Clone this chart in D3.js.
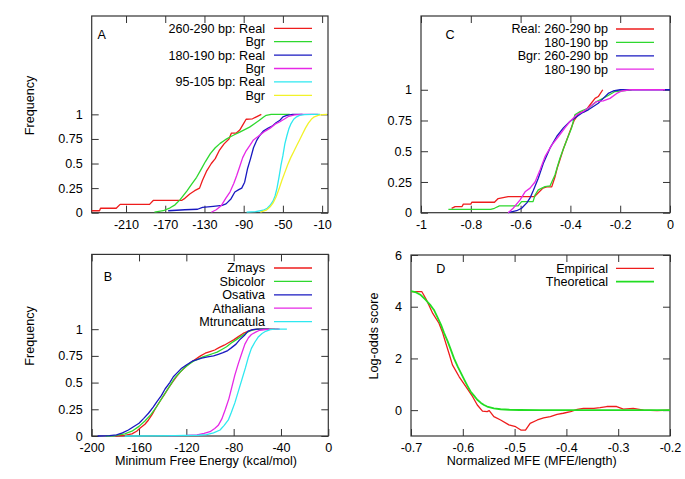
<!DOCTYPE html>
<html><head><meta charset="utf-8">
<script src="https://cdn.jsdelivr.net/npm/d3@7"></script>
<style>
body{margin:0;background:#fff}
text{font-family:"Liberation Sans",Arial,Helvetica,sans-serif;font-size:12.6px;fill:#000}
text.leg{font-size:12.6px}
</style>
</head><body>
<svg id="c" width="685" height="479"></svg>
<script>
// ---------- DATA ----------
const A_xTicks = [-210, -170, -130, -90, -50, -10];
const B_xTicks = [-200, -160, -120, -80, -40, 0];
const C_xTicks = [-1, -0.8, -0.6, -0.4, -0.2, 0];
const D_xTicks = [-0.7, -0.6, -0.5, -0.4, -0.3, -0.2];
const freqTicks = [0, 0.25, 0.5, 0.75, 1];
const D_yTicks = [0, 2, 4, 6];

const A_labels = ["260-290 bp: Real", "Bgr", "180-190 bp: Real", "Bgr", "95-105 bp: Real", "Bgr"];
const B_labels = ["Zmays", "Sbicolor", "Osativa", "Athaliana", "Mtruncatula"];
const C_labels = ["Real: 260-290 bp", "180-190 bp", "Bgr: 260-290 bp", "180-190 bp"];
const D_labels = ["Empirical", "Theoretical"];

// Panel A: cumulative frequency of MFE
const A_real260 = [[-245,0.02],[-237,0.02],[-236,0.045],[-220,0.045],[-216,0.085],[-186,0.085],[-182,0.126],[-153,0.126],[-150,0.146],[-145,0.19],[-140,0.224],[-135,0.25],[-132,0.33],[-128,0.42],[-123,0.5],[-119,0.55],[-115,0.63],[-110,0.7],[-105,0.75],[-102.5,0.81],[-97.5,0.81],[-94,0.84],[-91,0.89],[-87.5,0.95],[-81,0.955],[-77,0.975],[-72,1.0]];
const A_bgr260 = [[-181,0.005],[-172,0.02],[-165,0.05],[-160,0.08],[-155,0.13],[-148,0.22],[-143,0.29],[-138,0.36],[-134,0.43],[-129,0.52],[-124,0.6],[-119,0.66],[-114,0.705],[-109,0.74],[-104,0.77],[-99,0.795],[-94,0.82],[-89,0.845],[-84,0.87],[-79,0.905],[-74,0.94],[-70,0.97],[-67,0.99],[-62,1.0],[-43,1.0]];
const A_real180 = [[-167,0.02],[-150,0.03],[-137,0.035],[-132,0.055],[-121,0.065],[-112,0.075],[-108,0.09],[-103,0.14],[-99,0.21],[-95,0.235],[-92,0.25],[-89,0.31],[-86,0.45],[-83,0.55],[-80,0.66],[-77,0.73],[-74,0.78],[-70,0.83],[-65,0.86],[-61,0.88],[-57,0.915],[-53,0.94],[-50,0.975],[-46,0.99],[-40,1.0],[-30,1.0]];
const A_bgr180 = [[-123,0.005],[-118,0.03],[-113,0.07],[-108,0.15],[-104,0.21],[-100,0.3],[-97,0.38],[-94,0.47],[-91,0.56],[-88,0.62],[-84,0.68],[-80,0.74],[-76,0.77],[-72,0.8],[-68,0.83],[-63,0.86],[-58,0.9],[-53,0.925],[-48,0.955],[-44,0.98],[-38,0.995],[-30,1.0],[-14,1.0]];
const A_real95 = [[-87,0.005],[-78,0.01],[-70,0.025],[-66,0.045],[-63,0.075],[-60,0.12],[-58,0.17],[-56,0.25],[-54,0.36],[-52,0.48],[-50,0.58],[-48,0.7],[-46,0.78],[-44,0.85],[-42,0.9],[-39,0.95],[-36,0.975],[-33,0.99],[-28,0.998],[-20,1.0],[-12,1.0]];
const A_bgr95 = [[-73,0.005],[-67,0.025],[-63,0.06],[-60,0.1],[-57,0.16],[-54,0.24],[-51,0.33],[-48,0.41],[-45,0.49],[-42,0.56],[-39,0.62],[-36,0.68],[-33,0.74],[-30,0.8],[-27,0.86],[-24,0.91],[-21,0.95],[-18,0.975],[-14,0.99],[-10,0.998],[-5,1.0]];

// Panel B: species
const B_zmays = [[-180,0],[-172,0.005],[-166,0.02],[-162,0.045],[-159,0.075],[-155,0.11],[-152,0.15],[-149,0.2],[-146,0.26],[-142,0.33],[-139,0.38],[-135,0.45],[-132,0.5],[-128,0.56],[-125,0.6],[-120,0.655],[-116,0.69],[-112,0.72],[-108,0.75],[-104,0.775],[-100,0.79],[-96,0.805],[-92,0.83],[-88,0.85],[-84,0.875],[-80,0.9],[-76,0.93],[-72,0.96],[-68,0.98],[-64,0.995],[-60,1.0],[-42,1.0]];
const B_sbicolor = [[-188,0],[-180,0.003],[-172,0.02],[-166,0.045],[-160,0.09],[-155,0.14],[-150,0.2],[-146,0.26],[-142,0.33],[-138,0.4],[-134,0.47],[-130,0.54],[-126,0.59],[-122,0.635],[-118,0.67],[-114,0.7],[-110,0.72],[-106,0.74],[-102,0.755],[-98,0.77],[-94,0.785],[-90,0.81],[-86,0.835],[-82,0.87],[-78,0.9],[-74,0.93],[-70,0.96],[-66,0.985],[-62,0.997],[-58,1.0],[-45,1.0]];
const B_osativa = [[-195,0],[-185,0.003],[-179,0.01],[-174,0.03],[-169,0.056],[-165,0.085],[-160,0.12],[-156,0.165],[-152,0.213],[-148,0.27],[-145,0.32],[-141,0.38],[-138,0.44],[-134,0.5],[-131,0.555],[-127,0.6],[-124,0.635],[-120,0.665],[-115,0.7],[-111,0.715],[-107,0.73],[-102,0.74],[-97,0.75],[-93,0.765],[-89,0.78],[-85,0.8],[-82,0.825],[-78,0.86],[-75,0.9],[-71,0.94],[-68,0.98],[-64,0.995],[-60,1.0],[-50,1.0]];
const B_athaliana = [[-135,0.003],[-120,0.005],[-111,0.01],[-105,0.025],[-100,0.04],[-96,0.07],[-93,0.1],[-90,0.16],[-87,0.25],[-84,0.35],[-81.5,0.46],[-79,0.57],[-76,0.68],[-73,0.78],[-70.5,0.86],[-67.5,0.92],[-65,0.95],[-61,0.975],[-58,0.99],[-53,0.997],[-48,1.0],[-41,1.0]];
const B_mtruncatula = [[-172,0],[-150,0.002],[-130,0.004],[-110,0.007],[-103,0.012],[-97,0.03],[-91.5,0.056],[-88,0.1],[-84.5,0.15],[-82,0.22],[-79,0.31],[-76,0.42],[-73,0.53],[-70,0.64],[-67.5,0.74],[-65,0.82],[-62,0.88],[-59,0.93],[-56,0.96],[-53,0.98],[-49,0.995],[-45,1.0],[-35,1.0]];

// Panel C: normalized MFE
const C_real260 = [[-0.877,0.035],[-0.863,0.05],[-0.835,0.05],[-0.83,0.07],[-0.8,0.07],[-0.796,0.085],[-0.705,0.085],[-0.69,0.115],[-0.665,0.125],[-0.65,0.13],[-0.545,0.13],[-0.525,0.17],[-0.51,0.2],[-0.495,0.21],[-0.475,0.21],[-0.462,0.29],[-0.452,0.37],[-0.442,0.43],[-0.428,0.52],[-0.415,0.59],[-0.405,0.645],[-0.395,0.7],[-0.385,0.75],[-0.375,0.78],[-0.361,0.815],[-0.341,0.825],[-0.321,0.878],[-0.301,0.93],[-0.288,0.945],[-0.27,1.0]];
const C_real180 = [[-0.89,0.027],[-0.72,0.027],[-0.705,0.036],[-0.685,0.055],[-0.61,0.055],[-0.596,0.09],[-0.55,0.09],[-0.542,0.144],[-0.529,0.185],[-0.502,0.212],[-0.482,0.218],[-0.462,0.307],[-0.442,0.443],[-0.428,0.52],[-0.415,0.59],[-0.395,0.69],[-0.382,0.796],[-0.361,0.823],[-0.328,0.85],[-0.295,0.904],[-0.255,0.945],[-0.221,0.986],[-0.2,0.99],[-0.154,1.0]];
const C_bgr260 = [[-0.65,0],[-0.616,0.016],[-0.596,0.036],[-0.575,0.08],[-0.562,0.12],[-0.549,0.18],[-0.529,0.28],[-0.509,0.4],[-0.482,0.525],[-0.455,0.62],[-0.428,0.69],[-0.402,0.742],[-0.375,0.78],[-0.355,0.81],[-0.328,0.837],[-0.308,0.864],[-0.288,0.89],[-0.268,0.93],[-0.248,0.97],[-0.228,0.99],[-0.2,1.0],[0,1.0]];
const C_bgr180 = [[-0.65,0],[-0.63,0.036],[-0.602,0.104],[-0.582,0.17],[-0.562,0.2],[-0.542,0.25],[-0.522,0.348],[-0.502,0.456],[-0.475,0.55],[-0.448,0.62],[-0.422,0.69],[-0.402,0.742],[-0.375,0.796],[-0.348,0.823],[-0.321,0.864],[-0.295,0.904],[-0.268,0.91],[-0.241,0.93],[-0.214,0.97],[-0.194,0.99],[-0.161,1.0],[-0.02,1.0]];

// Panel D: log-odds score
const D_empirical = [[-0.7,4.58],[-0.679,4.58],[-0.671,4.3],[-0.664,4.0],[-0.658,3.74],[-0.646,3.36],[-0.639,3.0],[-0.633,2.6],[-0.626,2.15],[-0.62,1.75],[-0.607,1.29],[-0.594,0.91],[-0.581,0.52],[-0.572,0.2],[-0.562,-0.04],[-0.553,-0.06],[-0.549,-0.02],[-0.54,-0.25],[-0.527,-0.38],[-0.511,-0.57],[-0.498,-0.64],[-0.488,-0.77],[-0.479,-0.77],[-0.47,-0.51],[-0.456,-0.38],[-0.444,-0.3],[-0.431,-0.25],[-0.418,-0.16],[-0.406,-0.12],[-0.392,-0.06],[-0.379,0.03],[-0.367,0.07],[-0.347,0.07],[-0.335,0.1],[-0.322,0.14],[-0.303,0.14],[-0.29,0.04],[-0.271,0.07],[-0.251,0.0],[-0.225,-0.02],[-0.2,0.0]];
const D_theoretical = [[-0.7,4.6],[-0.69,4.55],[-0.681,4.45],[-0.672,4.27],[-0.662,4.05],[-0.655,3.85],[-0.649,3.6],[-0.642,3.3],[-0.636,2.98],[-0.629,2.65],[-0.623,2.33],[-0.617,2.0],[-0.61,1.69],[-0.603,1.41],[-0.597,1.17],[-0.591,0.94],[-0.585,0.72],[-0.578,0.55],[-0.572,0.4],[-0.565,0.28],[-0.559,0.2],[-0.553,0.14],[-0.54,0.07],[-0.527,0.035],[-0.51,0.015],[-0.49,0.005],[-0.45,0.0],[-0.2,0.0]];

// ---------- DRAWING ----------
const RED = "#ee1c1c", GREEN = "#2ed82e", BLUE = "#1818c0", MAG = "#e628e6", CYAN = "#2ee8f0", YEL = "#f2f22a";
const svg = d3.select("#c");
const FONT = '"Liberation Sans", Arial, Helvetica, sans-serif';

function drawPanel(cfg) {
  const g = svg.append("g");
  const x = d3.scaleLinear().domain(cfg.xDomain).range([cfg.left, cfg.right]);
  const y = d3.scaleLinear().domain(cfg.yDomain).range([cfg.bottom, cfg.top]);
  const T = 7;
  const fmt = d => String(d);
  const axes = [
    [d3.axisBottom(x).tickValues(cfg.xTicks).tickFormat(fmt).tickSize(-T).tickPadding(7), `translate(0,${cfg.bottom})`],
    [d3.axisTop(x).tickValues(cfg.xTicks).tickFormat("").tickSize(-T), `translate(0,${cfg.top})`],
    [d3.axisLeft(y).tickValues(cfg.yTicks).tickFormat(fmt).tickSize(-T).tickPadding(cfg.yPad || 9), `translate(${cfg.left},0)`],
    [d3.axisRight(y).tickValues(cfg.yTicks).tickFormat("").tickSize(-T), `translate(${cfg.right},0)`]
  ];
  axes.forEach(([ax, tr]) => {
    const a = g.append("g").attr("transform", tr).call(ax);
    a.attr("font-size", 12.6).attr("font-family", FONT);
    a.select(".domain").remove();
    a.selectAll(".tick line").attr("stroke", "#333").attr("stroke-width", 1);
    a.selectAll(".tick text").attr("fill", "#000");
  });
  g.append("rect").attr("x", cfg.left).attr("y", cfg.top)
    .attr("width", cfg.right - cfg.left).attr("height", cfg.bottom - cfg.top)
    .attr("fill", "none").attr("stroke", "#333").attr("stroke-width", 1.2);

  const line = d3.line().x(d => x(d[0])).y(d => y(d[1]));
  cfg.series.forEach(s => {
    g.append("path").attr("d", line(s.data)).attr("fill", "none")
      .attr("stroke", s.color).attr("stroke-width", s.width || 1.3)
      .attr("stroke-linejoin", "round");
  });

  // legend
  const L = cfg.legend;
  cfg.series.forEach((s, i) => {
    const yy = L.y0 + i * L.dy;
    g.append("text").attr("class", "leg").attr("x", L.tx).attr("y", yy).attr("dy", "0.35em")
      .attr("text-anchor", "end").text(s.label);
    g.append("line").attr("x1", L.x1).attr("x2", L.x2).attr("y1", yy).attr("y2", yy)
      .attr("stroke", s.color).attr("stroke-width", s.width || 1.3);
  });
  // tag
  g.append("text").attr("class", "leg").attr("x", cfg.tag[1]).attr("y", cfg.tag[2]).attr("dy", "0.35em")
    .attr("text-anchor", "middle").text(cfg.tag[0]);
}

drawPanel({
  left: 91.7, right: 328, top: 16, bottom: 212.7,
  xDomain: [-245, -4], yDomain: [0, 2], xTicks: A_xTicks, yTicks: freqTicks,
  series: [
    {data: A_real260, color: RED, label: A_labels[0]},
    {data: A_bgr260, color: GREEN, label: A_labels[1]},
    {data: A_real180, color: BLUE, label: A_labels[2]},
    {data: A_bgr180, color: MAG, label: A_labels[3]},
    {data: A_real95, color: CYAN, label: A_labels[4]},
    {data: A_bgr95, color: YEL, label: A_labels[5]}
  ],
  legend: {tx: 265, x1: 274, x2: 312, y0: 28.3, dy: 13.4},
  tag: ["A", 101.7, 35]
});

drawPanel({
  left: 91.7, right: 328.3, top: 254.4, bottom: 436,
  xDomain: [-200, 0], yDomain: [0, 1.7], xTicks: B_xTicks, yTicks: freqTicks,
  series: [
    {data: B_zmays, color: RED, label: B_labels[0]},
    {data: B_sbicolor, color: GREEN, label: B_labels[1]},
    {data: B_osativa, color: BLUE, label: B_labels[2]},
    {data: B_athaliana, color: MAG, label: B_labels[3]},
    {data: B_mtruncatula, color: CYAN, label: B_labels[4]}
  ],
  legend: {tx: 265, x1: 274, x2: 312, y0: 268, dy: 13.4},
  tag: ["B", 108, 276.7]
});

drawPanel({
  left: 421, right: 670, top: 16, bottom: 212.7,
  xDomain: [-1, 0], yDomain: [0, 1.6], xTicks: C_xTicks, yTicks: freqTicks,
  series: [
    {data: C_real260, color: RED, label: C_labels[0]},
    {data: C_real180, color: GREEN, label: C_labels[1]},
    {data: C_bgr260, color: BLUE, label: C_labels[2]},
    {data: C_bgr180, color: MAG, label: C_labels[3]}
  ],
  legend: {tx: 608, x1: 616, x2: 654, y0: 29, dy: 13.4},
  tag: ["C", 450, 35]
});

drawPanel({
  left: 411, right: 670, top: 255, bottom: 436,
  xDomain: [-0.7, -0.2], yDomain: [-1, 6], xTicks: D_xTicks, yTicks: D_yTicks,
  series: [
    {data: D_empirical, color: RED, label: D_labels[0]},
    {data: D_theoretical, color: "#22dd22", label: D_labels[1], width: 1.8}
  ],
  legend: {tx: 608, x1: 616, x2: 654, y0: 268.3, dy: 13.4},
  tag: ["D", 440.7, 269]
});

// axis titles
svg.append("text").attr("transform", "translate(30,105.5) rotate(-90)").attr("text-anchor", "middle").attr("dy", "0.35em").text("Frequency");
svg.append("text").attr("transform", "translate(30,336) rotate(-90)").attr("text-anchor", "middle").attr("dy", "0.35em").text("Frequency");
svg.append("text").attr("transform", "translate(374,336) rotate(-90)").attr("text-anchor", "middle").attr("dy", "0.35em").text("Log-odds score");
svg.append("text").attr("x", 206).attr("y", 461).attr("dy", "0.35em").attr("text-anchor", "middle").text("Minimum Free Energy (kcal/mol)");
svg.append("text").attr("x", 531.7).attr("y", 461).attr("dy", "0.35em").attr("text-anchor", "middle").text("Normalized MFE (MFE/length)");
</script>
</body></html>
